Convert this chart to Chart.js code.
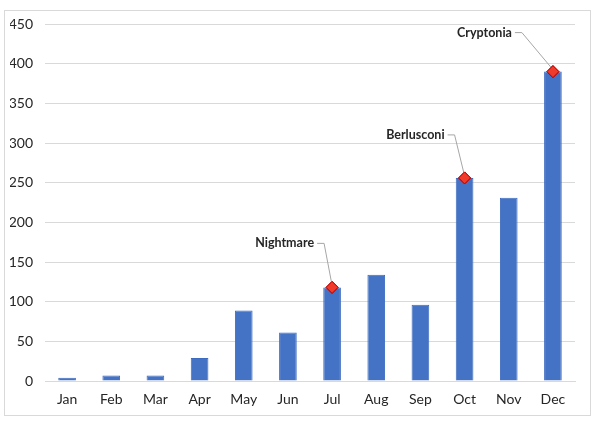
<!DOCTYPE html>
<html lang="en">
<head>
    <meta charset="UTF-8">
    <title>Monthly Bars</title>
    <script src="https://cdn.jsdelivr.net/npm/chart.js"></script>
    <style>
        body { margin: 0; background: #fff; }
        #wrap { width: 600px; height: 422px; }
    </style>
</head>
<body>
    <div id="wrap"><canvas id="chart" width="600" height="422"></canvas></div>
    <script>
        const months = ['Jan', 'Feb', 'Mar', 'Apr', 'May', 'Jun', 'Jul', 'Aug', 'Sep', 'Oct', 'Nov', 'Dec'];
        const values = [4, 7, 7, 29, 89, 61, 118, 134, 96, 256, 231, 390];
        const eventNames = [null, null, null, null, null, null, 'Nightmare', null, null, 'Berlusconi', null, 'Cryptonia'];
        const yTicks = [0, 50, 100, 150, 200, 250, 300, 350, 400, 450];

        const markers = values.map((v, i) => eventNames[i] ? v : null);

        // where each label's leader line turns (offset from the marker)
        const labelOffsets = {
            Nightmare: { dx: -8, dy: -44 },
            Berlusconi: { dx: -10, dy: -43 },
            Cryptonia: { dx: -31, dy: -39 }
        };

        const frame = {
            id: 'frame',
            beforeDraw(chart) {
                const c = chart.ctx;
                c.save();
                c.strokeStyle = '#d9d9d9';
                c.lineWidth = 1;
                c.strokeRect(4.5, 10.5, 586, 405);
                c.restore();
            }
        };

        const callouts = {
            id: 'callouts',
            afterDatasetsDraw(chart) {
                const c = chart.ctx;
                const meta = chart.getDatasetMeta(1);
                c.save();
                c.font = 'bold 12.5px Lato, sans-serif';
                c.fillStyle = '#262626';
                c.textBaseline = 'middle';
                c.textAlign = 'right';
                eventNames.forEach((name, i) => {
                    if (!name) return;
                    const p = meta.data[i];
                    const o = labelOffsets[name];
                    const cx = p.x + o.dx, cy = p.y + o.dy;
                    c.strokeStyle = '#a6a6a6';
                    c.lineWidth = 1;
                    c.beginPath();
                    c.moveTo(cx - 7, cy);
                    c.lineTo(cx, cy);
                    c.lineTo(p.x, p.y - 2);
                    c.stroke();
                    c.fillText(name, cx - 10, cy);
                });
                c.restore();
                // redraw markers on top of leader lines
                meta.data.forEach(el => { if (!el.skip) el.draw(c, chart.chartArea); });
            }
        };

        new Chart(document.getElementById('chart').getContext('2d'), {
            type: 'bar',
            data: {
                labels: months,
                datasets: [{
                    data: values,
                    backgroundColor: '#4472C4',
                    borderColor: '#3d6bc0',
                    borderWidth: 1,
                    barPercentage: 0.4,
                    categoryPercentage: 1,
                    order: 2
                }, {
                    type: 'line',
                    data: markers,
                    showLine: false,
                    pointStyle: 'rectRot',
                    pointRadius: 6,
                    pointBackgroundColor: '#f03a2a',
                    pointBorderColor: '#c00000',
                    pointBorderWidth: 1,
                    order: 1
                }]
            },
            options: {
                responsive: false,
                animation: false,
                layout: { padding: { left: 10, right: 25, top: 24, bottom: 15 } },
                plugins: {
                    legend: { display: false },
                    tooltip: { enabled: false }
                },
                scales: {
                    y: {
                        min: 0,
                        max: 450,
                        afterBuildTicks: s => { s.ticks = yTicks.map(v => ({ value: v })); },
                        afterFit: s => { s.width = 35; },
                        grid: { color: '#d9d9d9', drawTicks: false },
                        border: { display: false },
                        ticks: {
                            color: '#262626',
                            padding: 12,
                            font: { family: 'Lato, sans-serif', size: 14 }
                        }
                    },
                    x: {
                        afterFit: s => { s.height = 26; },
                        grid: { display: false, drawTicks: false },
                        border: { color: '#d9d9d9' },
                        ticks: {
                            color: '#262626',
                            padding: 10,
                            font: { family: 'Lato, sans-serif', size: 14 }
                        }
                    }
                }
            },
            plugins: [frame, callouts]
        });
    </script>
</body>
</html>
